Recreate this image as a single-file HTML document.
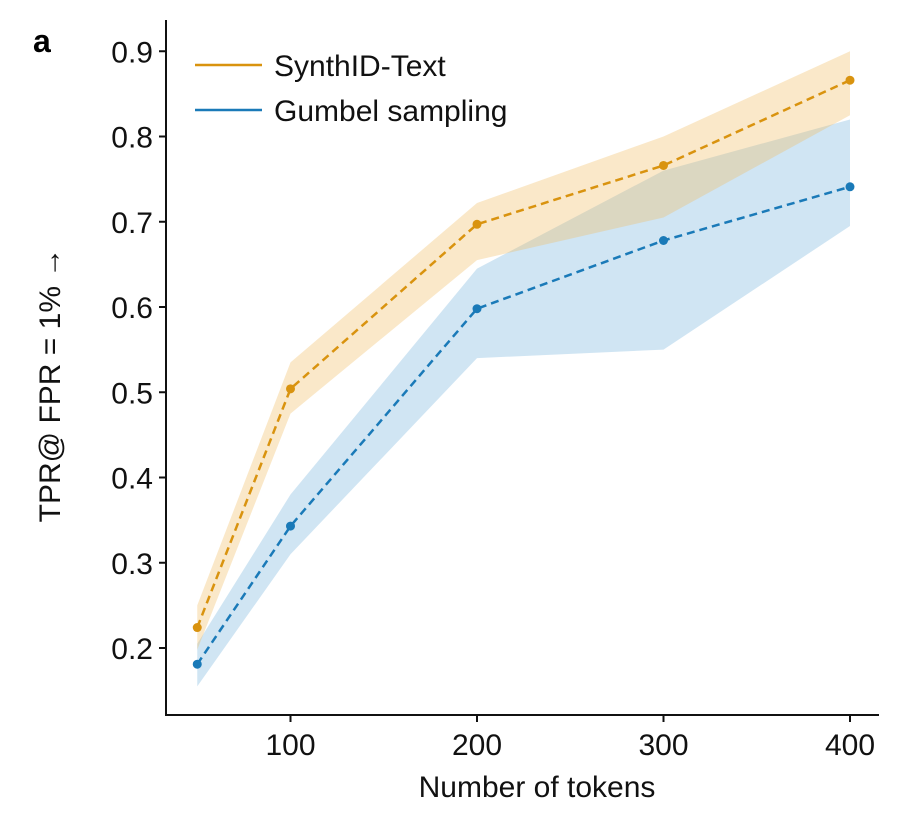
<!DOCTYPE html>
<html><head><meta charset="utf-8"><style>
html,body{margin:0;padding:0;background:#fff;}
svg{display:block;font-family:"Liberation Sans",Arial,sans-serif;}
</style></head><body>
<svg id="chart" width="902" height="820" xmlns="http://www.w3.org/2000/svg">
<text x="33" y="52" font-size="32" font-weight="bold">a</text>
<g id="plot"></g>
</svg>
<script>
const tokens=[50,100,200,300,400];
const synthMean=[0.224,0.504,0.697,0.766,0.866];
const synthUpper=[0.25,0.535,0.722,0.80,0.90];
const synthLower=[0.198,0.475,0.655,0.705,0.825];
const gumbMean=[0.181,0.343,0.598,0.678,0.741];
const gumbUpper=[0.205,0.38,0.645,0.76,0.82];
const gumbLower=[0.155,0.31,0.54,0.55,0.695];
const xTicks=[100,200,300,400];
const yTicks=[0.2,0.3,0.4,0.5,0.6,0.7,0.8,0.9];
const NS="http://www.w3.org/2000/svg";
const X=v=>104+v*1.865;
const Y=v=>648-(v-0.2)*852.5;
const g=document.getElementById('plot');
function el(t,a,txt){const e=document.createElementNS(NS,t);for(const k in a)e.setAttribute(k,a[k]);if(txt!==undefined)e.textContent=txt;g.appendChild(e);return e;}
function band(up,lo,fill,name){
 let d='M'+tokens.map((t,i)=>X(t)+','+Y(up[i])).join(' L');
 d+=' L'+tokens.map((t,i)=>X(t)+','+Y(lo[i])).reverse().join(' L')+' Z';
 const p=el('path',{d:d,fill:fill});
 
 
}
function series(m,color,name){
 const p=el('polyline',{points:tokens.map((t,i)=>X(t)+','+Y(m[i])).join(' '),fill:'none',stroke:color,'stroke-width':2.5,'stroke-dasharray':'8,5'});
 
 
 tokens.forEach((t,i)=>{
  const c=el('circle',{cx:X(t),cy:Y(m[i]),r:4.5,fill:color});
  
  
 });
}
band(gumbUpper,gumbLower,'rgba(120,180,220,0.35)','gumbel-band');
band(synthUpper,synthLower,'rgba(240,190,100,0.35)','synthid-band');
series(gumbMean,'#1a7ab8','gumbel');
series(synthMean,'#d9930f','synthid');
let a=el('line',{x1:166,y1:20,x2:166,y2:716,stroke:'#111','stroke-width':2});

a=el('line',{x1:165,y1:715,x2:879,y2:715,stroke:'#111','stroke-width':2});

xTicks.forEach(t=>{
 const l=el('line',{x1:X(t),y1:715,x2:X(t),y2:722,stroke:'#111','stroke-width':2});
 
 const tx=el('text',{x:X(t),y:755,'font-size':30,'text-anchor':'middle',fill:'#111'},String(t));
 
});
yTicks.forEach(t=>{
 const l=el('line',{x1:159,y1:Y(t),x2:166,y2:Y(t),stroke:'#111','stroke-width':2});
 
 const tx=el('text',{x:153,y:Y(t)+11,'font-size':30,'text-anchor':'end',fill:'#111'},t.toFixed(1));
 
});
let t=el('text',{x:537,y:797,'font-size':30,'text-anchor':'middle',fill:'#111'},'Number of tokens');

t=el('text',{x:0,y:0,'font-size':30,'text-anchor':'middle',fill:'#111',transform:'translate(60,385) rotate(-90)'},'TPR@ FPR = 1% \u2192');

[['SynthID-Text','#d9930f',65],['Gumbel sampling','#1a7ab8',110]].forEach(([n,c,y])=>{
 const l=el('line',{x1:195,y1:y,x2:262,y2:y,stroke:c,'stroke-width':2.5});
 
 const tx=el('text',{x:274,y:y+11,'font-size':30,fill:'#111'},n);
 
});
</script>
</body></html>
